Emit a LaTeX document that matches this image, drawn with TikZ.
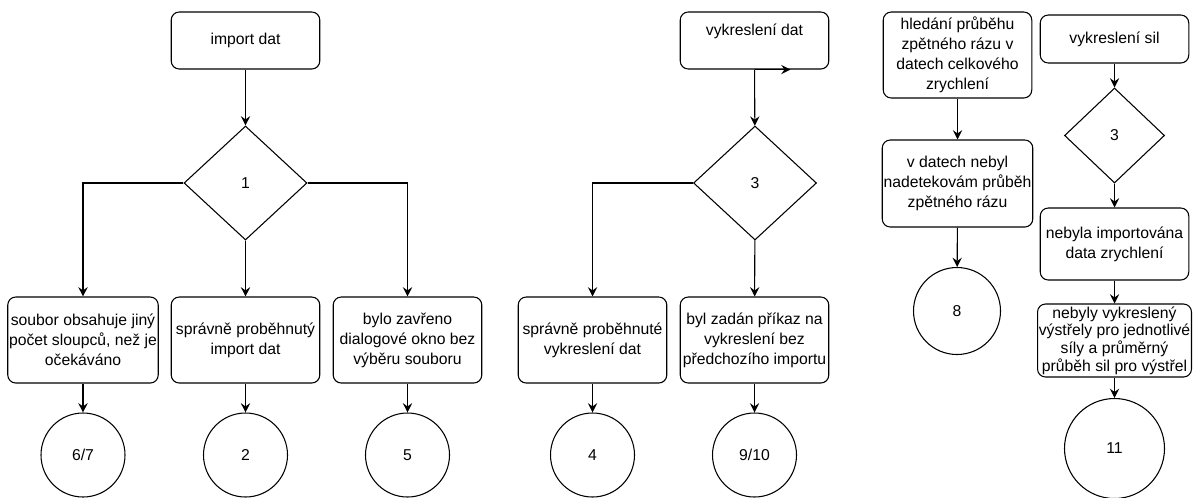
\documentclass[tikz,border=0pt]{standalone}
\usepackage{fontspec}
\setmainfont{Liberation Sans}
\usetikzlibrary{%
  arrows.meta,%
  shapes,% wg. diamond
  positioning%
}

\begin{document}
\begin{tikzpicture}
  [x=0.75pt, y=-0.75pt, line width=0.8pt, draw=black,
   >={Stealth[length=7pt,width=7pt,inset=2.5pt]},
   font=\fontsize{11.8}{15}\selectfont,
   krok/.style={draw, rounded corners=6pt, align=center, inner sep=1pt,
     minimum width=111.4pt, minimum height=64.5pt},
   volba/.style={draw, diamond, inner sep=0pt, aspect=1,
     minimum width=92.25pt, minimum height=85.5pt},
   konec/.style={draw, circle, inner sep=0pt, minimum size=63pt}]

\path[fill=white,use as bounding box] (0,0) rectangle (1194,497);

% import dat
\node[krok, minimum height=42.75pt] (imp) at (245.5,40.5) {import dat};
\node[volba] (v1) at (245.5,183) {1};
\node[krok] (jiny) at (83,340) {soubor obsahuje jiný\\počet sloupců, než je\\očekáváno};
\node[krok] (ok) at (245.5,340) {správně proběhnutý\\import dat};
\node[krok] (zavr) at (407.5,340) {bylo zavřeno\\dialogové okno bez\\výběru souboru};
\node[konec] (k67) at (83,455) {6/7};
\node[konec] (k2) at (245.5,455) {2};
\node[konec] (k5) at (407.5,455) {5};

\draw[->] (imp) -- (v1);
\draw[->] (v1.west) -| (jiny.north);
\draw[->] (v1) -- (ok);
\draw[->] (v1.east) -| (zavr.north);
\draw[->] (jiny) -- (k67);
\draw[->] (ok) -- (k2);
\draw[->] (zavr) -- (k5);

% vykresleni dat
\node[krok, minimum height=42.75pt, text height=9pt, text depth=16.4pt] (vyk) at (754.5,40.5) {vykreslení dat};
\node[volba] (v3) at (755,183) {3};
\node[krok] (okvyk) at (592.5,340) {správně proběhnuté\\vykreslení dat};
\node[krok] (bezimp) at (754.5,340) {byl zadán příkaz na\\vykreslení bez\\předchozího importu};
\node[konec] (k4) at (592.5,455) {4};
\node[konec] (k910) at (754.5,455) {9/10};

\draw[->] (vyk.south) -- ++(36,0);
\draw[->] (vyk) -- (v3);
\draw[->] (v3.west) -| (okvyk.north);
\draw[->] (v3) -- (bezimp);
\draw[->] (okvyk) -- (k4);
\draw[->] (bezimp) -- (k910);

% zpetny raz
\node[krok] (hled) at (957.5,55) {hledání průběhu\\zpětného rázu v\\datech celkového\\zrychlení};
\node[krok, minimum height=65.25pt] (nedet) at (957.5,183.5) {v datech nebyl\\nadetekovám průběh\\zpětného rázu};
\node[konec, minimum size=65.25pt] (k8) at (957,311) {8};

\draw[->] (hled) -- (nedet);
\draw[->] (nedet) -- (k8);

% vykresleni sil
\node[krok, minimum height=36pt] (sil) at (1114.5,39) {vykreslení sil};
\node[volba, minimum width=75pt, minimum height=71.25pt] (v3b) at (1114.5,135.5) {3};
\node[krok, minimum height=54pt] (neimp) at (1114.5,244) {nebyla importována\\data zrychlení};
\node[krok, minimum height=54.75pt, minimum width=112.5pt, font=\fontsize{11.8}{13.2}\selectfont] (nevyk) at (1114.5,340.5) {nebyly vykreslený\\výstřely pro jednotlivé\\síly a průměrný\\průběh sil pro výstřel};
\node[konec, minimum size=75pt] (k11) at (1114.5,448.5) {11};

\draw[->] (sil) -- (v3b);
\draw[->] (v3b) -- (neimp);
\draw[->] (neimp) -- (nevyk);
\draw[->] (nevyk) -- (k11);
\end{tikzpicture}
\end{document}
